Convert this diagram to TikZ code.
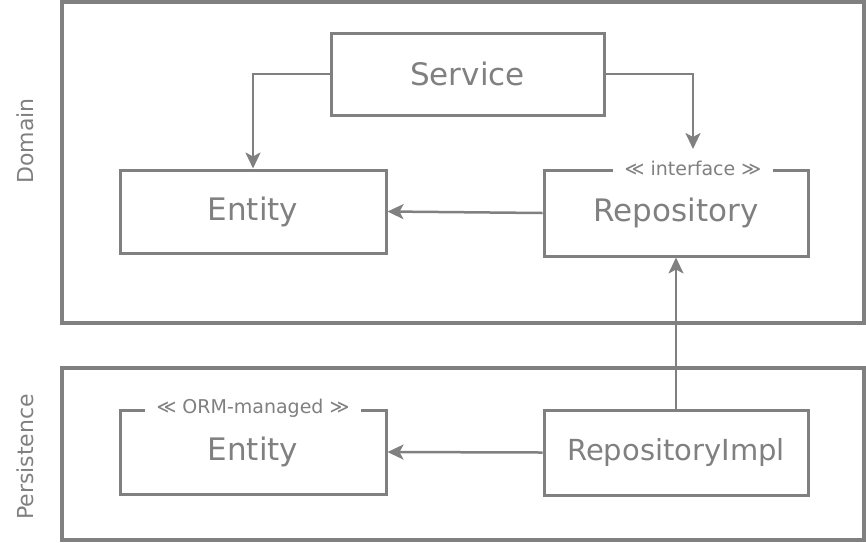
\documentclass[tikz,border=0pt]{standalone}
\usepackage{fontspec}
\setmainfont{DejaVu Sans}
\usetikzlibrary{arrows.meta}
\definecolor{umlgray}{HTML}{808080}

\begin{document}
\begin{tikzpicture}[
						x=1pt,
						y=-1pt,
						line cap=butt,
						line join=miter,
						draw=umlgray,
						layer/.style={draw=umlgray, line width=4pt, inner sep=0pt},
						box/.style={draw=umlgray, line width=3pt, inner sep=0pt, text=umlgray,
							font=\fontsize{31}{37}\selectfont},
						stereo/.style={fill=white, text=umlgray, inner xsep=12pt, inner ysep=2pt,
							font=\fontsize{19}{23}\selectfont},
						side/.style={text=umlgray, rotate=90, font=\fontsize{22}{26}\selectfont},
						conn/.style={draw=umlgray, line width=2.5pt, -{Stealth[length=16pt, width=15pt, inset=4pt]}}
						]
						
						\useasboundingbox (0,0) rectangle (866,542);
						
						% Layers
						\node[layer, minimum width=802, minimum height=321] (domain) at (463,162.5) {};
						\node[layer, minimum width=802, minimum height=172] (persist) at (463,454) {};
						\node[side] (domainlbl) at (25,141) {Domain};
						\node[side] (persistlbl) at (25,457) {Persistence};
						
						% Domain classes
						\node[box, minimum width=273, minimum height=82] (service) at (467.5,74) {Service};
						\node[box, minimum width=266, minimum height=83] (entity) at (253,211.5) {Entity};
						\node[box, minimum width=264, minimum height=86] (repo) at (676,213) {Repository};
						\node[stereo] (repostereo) at ([xshift=17]repo.north) {≪ interface ≫};
						
						% Persistence classes
						\node[box, minimum width=266, minimum height=84] (ormentity) at (253,452) {Entity};
						\node[stereo] (ormstereo) at (ormentity.north) {≪ ORM-managed ≫};
						\node[box, minimum width=264, minimum height=85] (impl) at (676,452.5) {\fontsize{29}{35}\selectfont RepositoryImpl};
						
						% Dependencies
						\coordinate (repotop) at (693,149);
						\draw[conn] (service.west) -| (entity.north);
						\draw[conn] (service.east) -| (repotop);
						\draw[conn] (repo.west) -- (entity.east);
						\draw[conn] (impl.north) -- (repo.south);
						\draw[conn] (impl.west) -- (ormentity.east);
						
					\end{tikzpicture}
\end{document}
